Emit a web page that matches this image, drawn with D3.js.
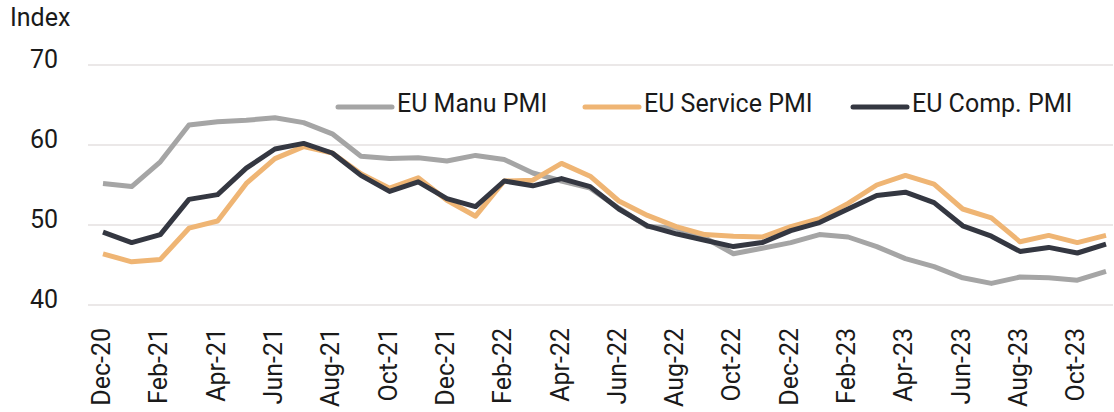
<!DOCTYPE html>
<html><head><meta charset="utf-8">
<script src="https://cdn.jsdelivr.net/npm/d3@7"></script>
<style>body{margin:0;background:#fff}svg{display:block}text{font-family:Roboto,sans-serif;fill:#1a1a1a}</style>
</head><body><svg id="c" width="1114" height="412"></svg>
<script>
const months = ["Dec-20","Jan-21","Feb-21","Mar-21","Apr-21","May-21","Jun-21","Jul-21","Aug-21","Sep-21","Oct-21","Nov-21","Dec-21","Jan-22","Feb-22","Mar-22","Apr-22","May-22","Jun-22","Jul-22","Aug-22","Sep-22","Oct-22","Nov-22","Dec-22","Jan-23","Feb-23","Mar-23","Apr-23","May-23","Jun-23","Jul-23","Aug-23","Sep-23","Oct-23","Nov-23"];
const manu = [55.2,54.8,57.9,62.5,62.9,63.1,63.4,62.8,61.4,58.6,58.3,58.4,58.0,58.7,58.2,56.5,55.5,54.6,52.1,49.8,49.6,48.4,46.4,47.1,47.8,48.8,48.5,47.3,45.8,44.8,43.4,42.7,43.5,43.4,43.1,44.2];
const service = [46.4,45.4,45.7,49.6,50.5,55.2,58.3,59.8,59.0,56.4,54.6,55.9,53.1,51.1,55.5,55.6,57.7,56.1,53.0,51.2,49.8,48.8,48.6,48.5,49.8,50.8,52.7,55.0,56.2,55.1,52.0,50.9,47.9,48.7,47.8,48.7];
const comp = [49.1,47.8,48.8,53.2,53.8,57.1,59.5,60.2,59.0,56.2,54.2,55.4,53.3,52.3,55.5,54.9,55.8,54.8,52.0,49.9,48.9,48.1,47.3,47.8,49.3,50.3,52.0,53.7,54.1,52.8,49.9,48.6,46.7,47.2,46.5,47.6];
const yTicks = [40,50,60,70];
const xTickLabels = months.filter((m,i)=>i%2===0);
const seriesNames = ["EU Manu PMI","EU Service PMI","EU Comp. PMI"];
const colors = ["#a5a5a5","#efb574","#343741"];

const svg = d3.select("#c");
const x = d3.scalePoint().domain(months).range([103,1106]);
const y = d3.scaleLinear().domain([40,70]).range([305,65]);

// grid
svg.append("g").selectAll("line").data(yTicks).join("line")
  .attr("x1",88).attr("x2",1113).attr("y1",d=>y(d)).attr("y2",d=>y(d))
  .attr("stroke","#e5e1e1").attr("stroke-width",1.6);
// y labels
svg.append("g").selectAll("text").data(yTicks).join("text")
  .attr("x",58).attr("y",d=>y(d)+3).attr("text-anchor","end")
  .attr("font-size",25).text(d=>d);
svg.append("text").attr("x",10).attr("y",26).attr("font-size",25).text("Index");
// x labels
svg.append("g").selectAll("text").data(xTickLabels).join("text")
  .attr("transform",d=>`translate(${x(d)+7},328) rotate(-90)`)
  .attr("text-anchor","end").attr("font-size",25).text(d=>d);

const line = d3.line().x((d,i)=>x(months[i])).y(d=>y(d));
const data = [manu, service, comp];
svg.append("g").selectAll("path").data(data).join("path")
  .attr("d",d=>line(d)).attr("fill","none")
  .attr("stroke",(d,i)=>colors[i]).attr("stroke-width",5)
  .attr("stroke-linejoin","round").attr("stroke-linecap","butt");

// legend
const legX = [338,585,853];
const lg = svg.append("g");
seriesNames.forEach((n,i)=>{
  lg.append("line").attr("x1",legX[i]).attr("x2",legX[i]+54).attr("y1",107).attr("y2",107)
    .attr("stroke",colors[i]).attr("stroke-width",5).attr("stroke-linecap","round");
  lg.append("text").attr("x",legX[i]+59).attr("y",112).attr("font-size",25).text(n);
});
</script></body></html>
